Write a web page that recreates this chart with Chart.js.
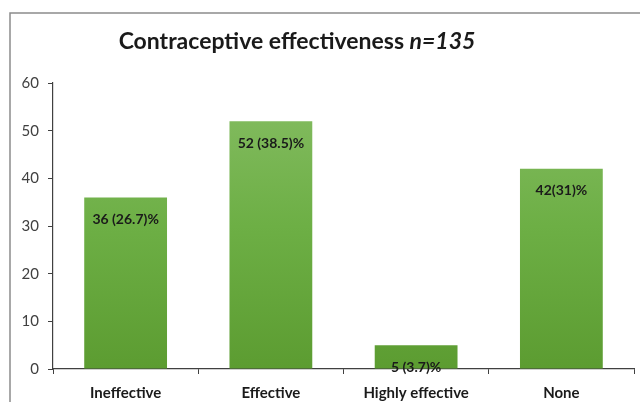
<!DOCTYPE html>
<html>
<head>
<meta charset="utf-8">
<script src="https://cdn.jsdelivr.net/npm/chart.js@4/dist/chart.umd.min.js"></script>
<style>
  html, body { margin: 0; padding: 0; background: #fff; }
  #wrap { width: 640px; height: 402px; position: relative; }
</style>
</head>
<body>
<div id="wrap"><canvas id="effChart" width="640" height="402"></canvas></div>
<script>
// values
var categories = ["Ineffective", "Effective", "Highly effective", "None"];
var counts = [36, 52, 5, 42];
var barLabels = ["36 (26.7)%", "52 (38.5)%", "5 (3.7)%", "42(31)%"];
var yTicks = [0, 10, 20, 30, 40, 50, 60];

var FONT = "Lato, 'Open Sans', sans-serif";

// frame line, title and bar labels drawn on the canvas
var framePlugin = {
  id: "frame",
  beforeDraw: function (chart) {
    var ctx = chart.ctx;
    ctx.save();
    ctx.strokeStyle = "#8c8c8c";
    ctx.lineWidth = 1.5;
    ctx.beginPath();
    ctx.moveTo(10, 402);
    ctx.lineTo(10, 13);
    ctx.lineTo(640, 13);
    ctx.stroke();

    // title: bold part + bold italic part
    var part1 = "Contraceptive effectiveness ";
    var part2 = "n=135";
    ctx.fillStyle = "#1a1a1a";
    ctx.textBaseline = "middle";
    ctx.font = "bold 23px " + FONT;
    var w1 = ctx.measureText(part1).width;
    ctx.font = "italic bold 23px " + FONT;
    var w2 = ctx.measureText(part2).width;
    var x0 = 297 - (w1 + w2) / 2;
    ctx.font = "bold 23px " + FONT;
    ctx.textAlign = "left";
    ctx.fillText(part1, x0, 42);
    ctx.font = "italic bold 23px " + FONT;
    ctx.fillText(part2, x0 + w1, 42);
    ctx.restore();
  },
  afterDatasetsDraw: function (chart) {
    var ctx = chart.ctx;
    var meta = chart.getDatasetMeta(0);
    ctx.save();
    ctx.font = "bold 14px " + FONT;
    ctx.fillStyle = "#1a1a1a";
    ctx.textAlign = "center";
    ctx.textBaseline = "middle";
    meta.data.forEach(function (bar, i) {
      ctx.fillText(barLabels[i], bar.x, bar.y + 22);
    });
    ctx.restore();
  }
};

var ctx = document.getElementById("effChart").getContext("2d");
var myChart = new Chart(ctx, {
  type: "bar",
  data: {
    labels: categories,
    datasets: [{
      data: counts,
      backgroundColor: function (context) {
        var area = context.chart.chartArea;
        if (!area) return "#6aac44";
        var g = context.chart.ctx.createLinearGradient(0, area.top, 0, area.bottom);
        g.addColorStop(0, "#86bd64");
        g.addColorStop(0.5, "#6daf45");
        g.addColorStop(1, "#5c9c31");
        return g;
      },
      borderWidth: 0,
      categoryPercentage: 1,
      barPercentage: 0.57
    }]
  },
  plugins: [framePlugin],
  options: {
    responsive: false,
    animation: false,
    layout: { padding: { left: 0, right: 6, top: 83, bottom: 0 } },
    plugins: {
      legend: { display: false },
      tooltip: { enabled: false }
    },
    scales: {
      x: {
        grid: {
          offset: true,
          drawOnChartArea: false,
          drawTicks: true,
          tickLength: 5,
          color: "#404040",
          lineWidth: 1
        },
        border: { color: "#404040", width: 1.2 },
        ticks: {
          color: "#1a1a1a",
          font: { family: FONT, size: 15, weight: "bold" },
          padding: 10
        },
        afterFit: function (scale) { scale.height = 33; }
      },
      y: {
        min: 0,
        max: 60,
        afterBuildTicks: function (scale) {
          scale.ticks = yTicks.map(function (v) { return { value: v }; });
        },
        grid: {
          drawOnChartArea: false,
          drawTicks: true,
          tickLength: 5,
          color: "#404040"
        },
        border: { color: "#404040", width: 1.2 },
        ticks: {
          color: "#404040",
          font: { family: FONT, size: 15 },
          padding: 9
        },
        afterFit: function (scale) { scale.width = 53; }
      }
    }
  }
});
</script>
</body>
</html>
